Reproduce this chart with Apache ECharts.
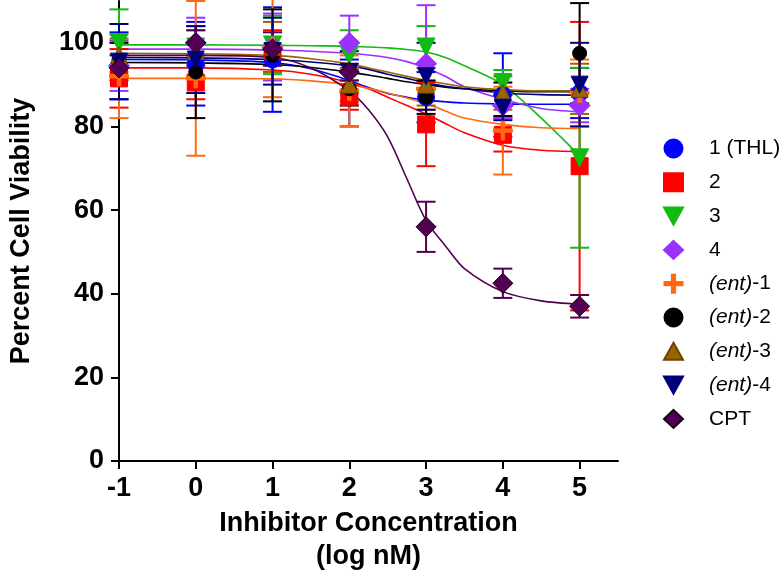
<!DOCTYPE html>
<html>
<head>
<meta charset="utf-8">
<script src="https://cdn.jsdelivr.net/npm/echarts@6/dist/echarts.min.js"></script>
<style>html,body{margin:0;padding:0;background:#fff;}#c{width:783px;height:578px;}</style>
</head>
<body>
<div id="c"></div>
<script>
// ---- data ----
const xValues = [-1, 0, 1, 2, 3, 4, 5];
const xTicks = [-1, 0, 1, 2, 3, 4, 5];
const yTicks = [0, 20, 40, 60, 80, 100];
const seriesNames = ['1 (THL)', '2', '3', '4', '(ent)-1', '(ent)-2', '(ent)-3', '(ent)-4', 'CPT'];

const thlMean  = [94.5, 95, 96, 88, 87, 87.5, 88];
const thlErr   = [8, 10, 12.5, 8, 6, 10, 6];
const c2Mean   = [91.5, 90.5, 98, 87, 80.5, 78, 70.5];
const c2Err    = [7, 4, 5, 3, 10, 4, 34.5];
const c3Mean   = [100, 99, 99.5, 97, 99, 90.5, 72.5];
const c3Err    = [8, 4, 7, 6, 5, 3, 21.5];
const c4Mean   = [94.5, 100, 99, 100, 95, 85, 85];
const c4Err    = [6, 6, 8, 6.5, 14, 3, 4];
const ent1Mean = [92, 91.5, 99, 88.5, 89, 79, 88];
const ent1Err  = [10, 18.5, 12, 8.5, 5, 10.5, 8];
const ent2Mean = [96, 93, 97, 89, 87, 86.5, 97.5];
const ent2Err  = [4, 11, 11, 4, 4, 4, 12];
const ent3Mean = [97, 98, 99, 90, 90, 88, 89];
const ent3Err  = [4, 6, 6, 4, 5, 4, 6];
const ent4Mean = [95.5, 96, 98, 93, 92, 84.5, 90];
const ent4Err  = [9, 8, 8, 5, 8, 3, 10];
const cptMean  = [94, 100, 98.5, 93, 56, 42.5, 37];
const cptErr   = [3, 3, 4, 2, 6, 3.5, 2.7];

// fitted curves
const fitX    = [-1, 0, 1, 1.5, 2, 2.25, 2.5, 2.75, 3, 3.25, 3.5, 4, 4.5, 5];
const thlFit  = [96, 95.9, 95.3, 93.8, 91, 89.3, 87.9, 87, 86.3, 85.9, 85.6, 85.4, 85.3, 85.3];
const c2Fit   = [94, 94, 93.5, 92.5, 90.5, 89, 87, 85, 83, 80.7, 78.5, 75.5, 74.3, 74];
const c3Fit   = [99.5, 99.5, 99.4, 99.3, 99.2, 99, 98.8, 98.4, 97.8, 96.5, 94.5, 90, 82, 73];
const c4Fit   = [98.5, 98.5, 98.3, 98, 97.5, 97.1, 96.5, 95.5, 94, 92, 89.5, 86.5, 84.3, 83.5];
const ent1Fit = [91.5, 91.5, 91.4, 90.9, 90, 89.1, 88, 86.8, 85.5, 83.7, 82, 80.5, 79.7, 79.5];
const ent2Fit = [95.3, 95.2, 94.8, 94.1, 93, 92.3, 91.5, 90.7, 90, 89.4, 89, 88.5, 88.3, 88.3];
const ent3Fit = [97.5, 97.4, 97, 96.2, 95, 94, 93, 92, 91, 90.2, 89.5, 88.8, 88.5, 88.5];
const ent4Fit = [96.5, 96.4, 96, 95.4, 94.5, 93.6, 92.5, 91.5, 90.5, 89.6, 89, 88, 87.6, 87.5];
const cptFit  = [97, 97, 96.5, 94, 88.5, 84, 77.5, 67.5, 57.5, 51.5, 46, 40.5, 38.3, 37.5];

// ---- styles ----
const FONT = '"Liberation Sans", Arial, Helvetica, sans-serif';
const PLUS = 'path://M4.1,0 L5.9,0 L5.9,4.1 L10,4.1 L10,5.9 L5.9,5.9 L5.9,10 L4.1,10 L4.1,5.9 L0,5.9 L0,4.1 L4.1,4.1 Z';
const TRI_DOWN = 'path://M0,0 L10,0 L5,9 Z';
const TRI_UP = 'path://M5,0 L10,9 L0,9 Z';

const defs = [
  {name: seriesNames[0], mean: thlMean,  err: thlErr,  fit: thlFit,  color: '#0000FF', symbol: 'circle', size: 17, border: '#0000FF'},
  {name: seriesNames[1], mean: c2Mean,   err: c2Err,   fit: c2Fit,   color: '#FF0000', symbol: 'rect', size: 17, border: '#FF0000'},
  {name: seriesNames[2], mean: c3Mean,   err: c3Err,   fit: c3Fit,   color: '#11BB11', symbol: TRI_DOWN, size: 18, border: '#11BB11'},
  {name: seriesNames[3], mean: c4Mean,   err: c4Err,   fit: c4Fit,   color: '#9B30FF', symbol: 'diamond', size: 21, border: '#9B30FF'},
  {name: seriesNames[4], mean: ent1Mean, err: ent1Err, fit: ent1Fit, color: '#FF6A10', symbol: PLUS, size: 19, border: '#FF6A10'},
  {name: seriesNames[5], mean: ent2Mean, err: ent2Err, fit: ent2Fit, color: '#000000', symbol: 'circle', size: 14, border: '#000000'},
  {name: seriesNames[6], mean: ent3Mean, err: ent3Err, fit: ent3Fit, color: '#9A6400', symbol: TRI_UP, size: 17, border: '#6a4400'},
  {name: seriesNames[7], mean: ent4Mean, err: ent4Err, fit: ent4Fit, color: '#00007A', symbol: TRI_DOWN, size: 17, border: '#00007A'},
  {name: seriesNames[8], mean: cptMean,  err: cptErr,  fit: cptFit,  color: '#520052', symbol: 'diamond', size: 20, border: '#1a001a'}
];

const series = [];
defs.forEach(function (d, i) {
  series.push({
    name: d.name + ' fit', type: 'line', smooth: 0.3, symbol: 'none', z: 1,
    data: fitX.map(function (x, k) { return [x, d.fit[k]]; }),
    lineStyle: {color: d.color, width: 1.6}, silent: true
  });
});
defs.forEach(function (d, i) {
  series.push({
    name: d.name + ' err', type: 'custom', z: 2, silent: true,
    data: xValues.map(function (x, k) { return [x, d.mean[k] - d.err[k], d.mean[k] + d.err[k]]; }),
    renderItem: function (params, api) {
      const lo = api.coord([api.value(0), api.value(1)]);
      const hi = api.coord([api.value(0), api.value(2)]);
      const w = 9.5;
      const st = {stroke: d.color, lineWidth: 2};
      return {type: 'group', children: [
        {type: 'line', shape: {x1: lo[0], y1: lo[1], x2: hi[0], y2: hi[1]}, style: st},
        {type: 'line', shape: {x1: lo[0] - w, y1: lo[1], x2: lo[0] + w, y2: lo[1]}, style: st},
        {type: 'line', shape: {x1: hi[0] - w, y1: hi[1], x2: hi[0] + w, y2: hi[1]}, style: st}
      ]};
    },
    encode: {x: 0, y: [1, 2]}
  });
});
defs.forEach(function (d, i) {
  series.push({
    name: d.name, type: 'scatter', z: 3 + i * 0.01,
    symbol: d.symbol, symbolSize: d.size,
    data: xValues.map(function (x, k) { return [x, d.mean[k]]; }),
    itemStyle: {color: d.color, borderColor: d.border, borderWidth: 1, opacity: 1}
  });
});

const chart = echarts.init(document.getElementById('c'), null, {renderer: 'canvas'});
chart.setOption({
  animation: false,
  backgroundColor: '#ffffff',
  grid: {left: 114, right: 165, top: 1, bottom: 116, containLabel: false},
  legend: {
    data: seriesNames,
    orient: 'vertical', left: 658, top: 133,
    itemWidth: 19, itemHeight: 18, itemGap: 12.8,
    textStyle: {
      fontFamily: FONT, fontSize: 21, color: '#000', lineHeight: 18, padding: [0, 0, 0, 21],
      rich: {i: {fontStyle: 'italic', fontFamily: FONT, fontSize: 21, color: '#000', lineHeight: 18}}
    },
    formatter: function (n) {
      const m = n.match(/^\(ent\)(.*)$/);
      return m ? '{i|(ent)}' + m[1] : n;
    },
    selectedMode: false
  },
  xAxis: {
    type: 'value', min: -1, max: 5.5, interval: 1,
    axisLine: {show: true, onZero: false, lineStyle: {color: '#000', width: 2}},
    axisTick: {show: true, length: 8, lineStyle: {color: '#000', width: 2}, customValues: xTicks},
    axisLabel: {fontFamily: FONT, fontSize: 27, fontWeight: 'bold', color: '#000', margin: 14, customValues: xTicks},
    splitLine: {show: false},
    name: 'Inhibitor Concentration\n(log nM)', nameLocation: 'middle', nameGap: 46,
    nameTextStyle: {fontFamily: FONT, fontSize: 27, fontWeight: 'bold', color: '#000', lineHeight: 33}
  },
  yAxis: {
    type: 'value', min: 0, max: 110, interval: 20,
    axisLine: {show: true, onZero: false, lineStyle: {color: '#000', width: 2}},
    axisTick: {show: true, length: 8, lineStyle: {color: '#000', width: 2}, customValues: yTicks},
    axisLabel: {fontFamily: FONT, fontSize: 27, fontWeight: 'bold', color: '#000', margin: 15, customValues: yTicks},
    splitLine: {show: false},
    name: 'Percent Cell Viability', nameLocation: 'middle', nameGap: 84, nameRotate: 90,
    nameTextStyle: {fontFamily: FONT, fontSize: 27, fontWeight: 'bold', color: '#000'}
  },
  series: series
});
</script>
</body>
</html>
